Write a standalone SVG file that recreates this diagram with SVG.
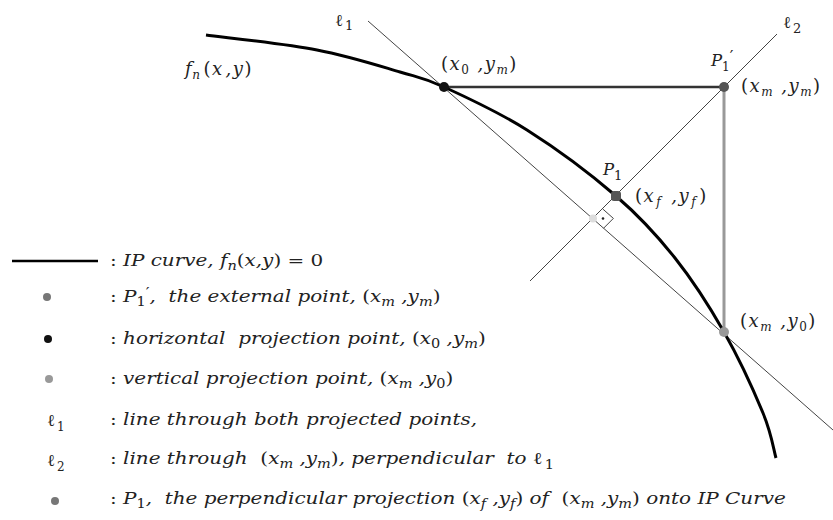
<svg xmlns="http://www.w3.org/2000/svg" width="833" height="520" viewBox="0 0 833 520">
<style>
.t{font-family:"DejaVu Serif","Liberation Serif",serif;font-style:italic;font-size:16.5px;fill:#222}
.g{font-size:18px;letter-spacing:1.5px}
.u{font-style:normal}
.s{font-size:12px}
.thin{stroke:#444;stroke-width:1;fill:none}
</style>
<rect width="833" height="520" fill="#fff"/>
<g id="connectors">
  <line id="l1" class="thin" x1="368" y1="21" x2="833" y2="430"/>
  <line id="l2" class="thin" x1="777" y1="34" x2="530" y2="281"/>
  <line id="horizontal" x1="444" y1="87" x2="724" y2="87" stroke="#333" stroke-width="2.7"/>
  <line id="vertical" x1="724" y1="87" x2="724" y2="332" stroke="#999" stroke-width="3"/>
  <path id="right-angle" class="thin" d="M602.9,209.1 L613.4,218.4 L603.5,228.3"/>
  <circle cx="603" cy="218.5" r="1.3" fill="#222"/>
</g>
<g id="curve">
  <path d="M206,35 C224.5,37.5 284.7,43.8 317,50 C349.3,56.2 378.8,65.8 400,72 C421.2,78.2 422.8,77.3 444,87 C465.2,96.7 498.3,111.8 527,130 C555.7,148.2 591.3,174.7 616,196 C640.7,217.3 657,235.3 675,258 C693,280.7 709.3,306.2 724,332 C738.7,357.8 754.3,392 763,413 C771.7,434 773.8,450.5 776,458" fill="none" stroke="#000" stroke-width="3"/>
  <text class="t g" x="185" y="75">f<tspan class="s" dx="-1" dy="4">n</tspan><tspan class="u" dx="2" dy="-4">(</tspan>x<tspan dx="2">,</tspan>y<tspan class="u">)</tspan></text>
</g>
<g id="label-l1"><text class="t u" font-size="18" x="335" y="26">ℓ<tspan font-size="13" dx="2" dy="4">1</tspan></text></g>
<g id="label-l2"><text class="t u" font-size="18" x="783" y="28">ℓ<tspan font-size="13" dx="2" dy="5">2</tspan></text></g>
<g id="point-x0ym">
  <circle cx="444" cy="87" r="5" fill="#111"/>
  <text class="t g" x="441" y="70" xml:space="preserve"><tspan class="u">(</tspan>x<tspan class="s u" dy="4">0</tspan><tspan dy="-4"> ,y</tspan><tspan class="s" dy="4">m</tspan><tspan class="u" dy="-4">)</tspan></text>
</g>
<g id="point-P1prime">
  <circle cx="724" cy="87" r="5" fill="#555"/>
  <text class="t" font-size="18" x="711" y="66">P<tspan class="u" font-size="12" dy="5">1</tspan><tspan class="u" font-size="16" dy="-9">′</tspan></text>
  <text class="t g" x="741" y="92" xml:space="preserve"><tspan class="u">(</tspan>x<tspan class="s" dy="4">m</tspan><tspan dy="-4"> ,y</tspan><tspan class="s" dy="4">m</tspan><tspan class="u" dy="-4">)</tspan></text>
</g>
<g id="point-P1">
  <rect x="611" y="191" width="10" height="10" rx="3" fill="#555"/>
  <text class="t" font-size="18" x="603" y="175">P<tspan class="u" font-size="13" dy="5">1</tspan></text>
  <text class="t g" x="635" y="202" xml:space="preserve"><tspan class="u">(</tspan>x<tspan class="s" dx="1" dy="4">f</tspan><tspan dx="2" dy="-4"> ,y</tspan><tspan class="s" dx="1" dy="4">f</tspan><tspan class="u" dx="2" dy="-4">)</tspan></text>
</g>
<g id="point-foot">
  <circle cx="593" cy="218.5" r="4" fill="#ddd"/>
</g>
<g id="point-xmy0">
  <circle cx="724" cy="332" r="5" fill="#999"/>
  <text class="t g" x="740" y="327" xml:space="preserve"><tspan class="u">(</tspan>x<tspan class="s" dy="4">m</tspan><tspan dy="-4"> ,y</tspan><tspan class="s u" dy="4">0</tspan><tspan class="u" dy="-4">)</tspan></text>
</g>
<g id="legend">
  <line x1="12" y1="261" x2="98" y2="261" stroke="#000" stroke-width="2.7"/>
  <circle cx="47" cy="297" r="4" fill="#777"/>
  <circle cx="48" cy="339" r="4" fill="#111"/>
  <circle cx="49" cy="379" r="4" fill="#999"/>
  <circle cx="55" cy="501" r="4" fill="#777"/>
  <text class="t u" font-size="17" x="47" y="426">ℓ<tspan font-size="12" dx="2" dy="5">1</tspan></text>
  <text class="t u" font-size="17" x="47" y="466">ℓ<tspan font-size="12" dx="2" dy="5">2</tspan></text>
  <g transform="matrix(1.21,0,0,1,-23.1,0)">
  <text class="t" x="110" y="266" xml:space="preserve"><tspan class="u">: </tspan>IP curve, f<tspan class="s" dy="4">n</tspan><tspan class="u" dy="-4">(</tspan>x,y<tspan class="u">) = 0</tspan></text>
  <text class="t" x="110" y="302" xml:space="preserve"><tspan class="u">: </tspan>P<tspan class="s u" dy="4">1</tspan><tspan class="u" font-size="14" dy="-8">′</tspan><tspan dy="4">,  the external point, </tspan><tspan class="u">(</tspan>x<tspan class="s" dy="4">m</tspan><tspan dy="-4"> ,y</tspan><tspan class="s" dy="4">m</tspan><tspan class="u" dy="-4">)</tspan></text>
  <text class="t" x="110" y="344" xml:space="preserve"><tspan class="u">: </tspan>horizontal  projection point, <tspan class="u">(</tspan>x<tspan class="s u" dy="4">0</tspan><tspan dy="-4"> ,y</tspan><tspan class="s" dy="4">m</tspan><tspan class="u" dy="-4">)</tspan></text>
  <text class="t" x="110" y="384" xml:space="preserve"><tspan class="u">: </tspan>vertical projection point, <tspan class="u">(</tspan>x<tspan class="s" dy="4">m</tspan><tspan dy="-4"> ,y</tspan><tspan class="s u" dy="4">0</tspan><tspan class="u" dy="-4">)</tspan></text>
  <text class="t" x="110" y="425" xml:space="preserve"><tspan class="u">: </tspan>line through both projected points,</text>
  <text class="t" x="110" y="464" xml:space="preserve"><tspan class="u">: </tspan>line through  <tspan class="u">(</tspan>x<tspan class="s" dy="4">m</tspan><tspan dy="-4"> ,y</tspan><tspan class="s" dy="4">m</tspan><tspan class="u" dy="-4">)</tspan>, perpendicular  to <tspan class="u">ℓ</tspan><tspan class="u" font-size="12" dx="2" dy="5">1</tspan></text>
  <text class="t" x="110" y="504" xml:space="preserve"><tspan class="u">: </tspan>P<tspan class="s u" dy="4">1</tspan><tspan dy="-4">,  the perpendicular projection </tspan><tspan class="u">(</tspan>x<tspan class="s" dy="4">f</tspan><tspan dy="-4"> ,y</tspan><tspan class="s" dy="4">f</tspan><tspan class="u" dy="-4">)</tspan> of  <tspan class="u">(</tspan>x<tspan class="s" dy="4">m</tspan><tspan dy="-4"> ,y</tspan><tspan class="s" dy="4">m</tspan><tspan class="u" dy="-4">)</tspan> onto IP Curve</text>
  </g>
</g>
</svg>
